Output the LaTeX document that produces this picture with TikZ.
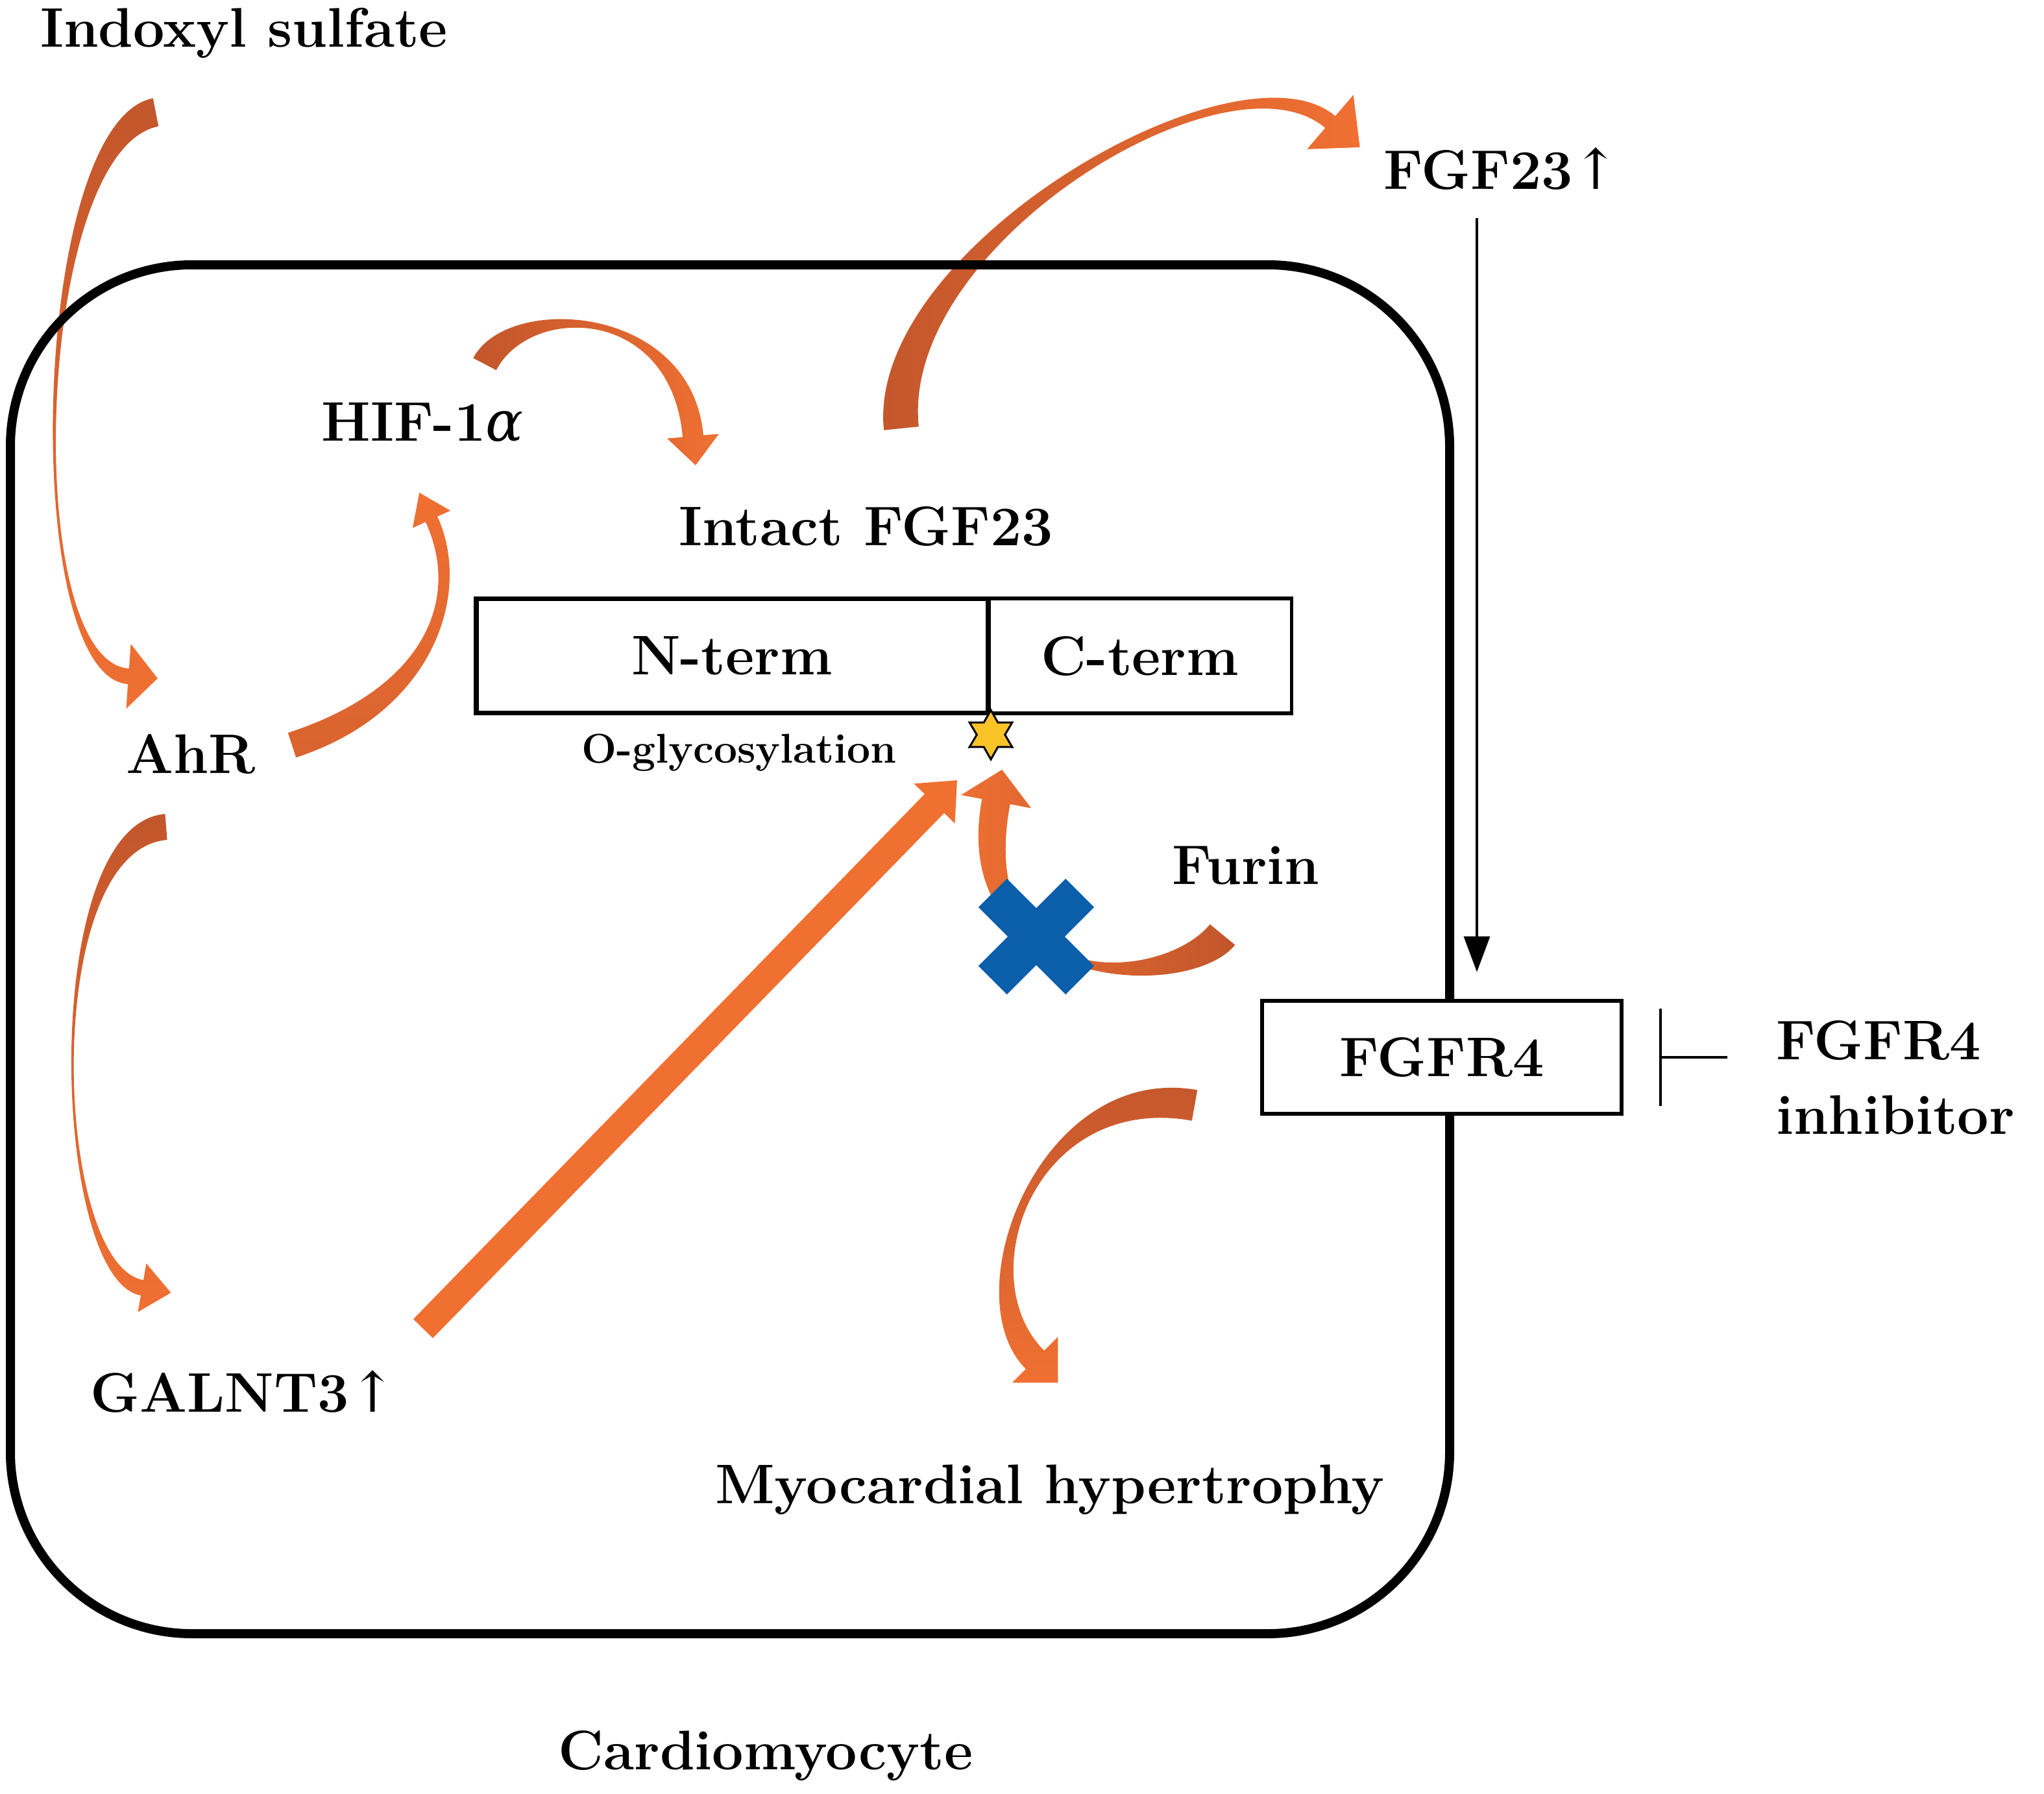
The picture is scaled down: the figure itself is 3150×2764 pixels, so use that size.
\documentclass[tikz,border=0pt]{standalone}
\usepackage{fontspec}
\newfontfamily\symfont{DejaVu Serif}
\usetikzlibrary{calc,arrows.meta,shapes.geometric}

\definecolor{orangelight}{RGB}{240,112,50}
\definecolor{orangedark}{RGB}{194,86,44}
\definecolor{crossblue}{RGB}{10,94,170}
\definecolor{stargold}{RGB}{250,196,40}

\newcommand{\lab}{\fontsize{86}{115}\selectfont\bfseries}
\newcommand{\smalllab}{\fontsize{64}{76}\selectfont\bfseries}
\newcommand{\up}{{\symfont\mdseries ↑}}
% tapered block arrow: options, tail, control, control, head base, tail half width, head-side half width, head half width, head length
\newcommand{\fatarrow}[9]{%
  \path[#1] ($(#2)!#6!90:(#3)$) .. controls ($(#3)!#6!-90:(#2)$) and ($(#4)!#7!90:(#5)$) .. ($(#5)!#7!-90:(#4)$)
    -- ($(#5)!#8!-90:(#4)$) -- ($(#5)!#9!180:(#4)$) -- ($(#5)!#8!90:(#4)$) -- ($(#5)!#7!90:(#4)$)
    .. controls ($(#4)!#7!-90:(#5)$) and ($(#3)!#6!90:(#2)$) .. ($(#2)!#6!-90:(#3)$) -- cycle;}

\begin{document}
\begin{tikzpicture}[x=1pt, y=-1pt,
    t/.style={font=\lab, inner sep=0pt, anchor=base},
    b/.style={draw, fill=white, line width=5pt, minimum height=174pt, inner sep=0pt, font=\lab},
    k/.style={fill=crossblue, minimum width=190pt, minimum height=62pt, inner sep=0pt},
    sig/.style={line width=4pt, -{Triangle[width=40pt,length=55pt]}},
    inh/.style={line width=4pt, -{Bar[width=150pt]}}]
    \useasboundingbox (0,0) rectangle (3150,2764);

    % arrow end points
    \coordinate (ind0) at (240,173);   \coordinate (ind1) at (50,210);
    \coordinate (ind2) at (30,1030);   \coordinate (ind3) at (198,1042);
    \coordinate (hif0) at (450,1148);  \coordinate (hif1) at (660,1080);
    \coordinate (hif2) at (720,920);   \coordinate (hif3) at (665,800);
    \coordinate (fgf0) at (747,561);   \coordinate (fgf1) at (800,460);
    \coordinate (fgf2) at (1050,470);  \coordinate (fgf3) at (1068,672);
    \coordinate (sec0) at (1389,660);  \coordinate (sec1) at (1360,380);
    \coordinate (sec2) at (1900,60);   \coordinate (sec3) at (2050,188);
    \coordinate (gal0) at (256,1274);  \coordinate (gal1) at (60,1290);
    \coordinate (gal2) at (80,1960);   \coordinate (gal3) at (219,1984);
    \coordinate (gly0) at (652,2047);  \coordinate (gly3) at (1440,1238);
    \coordinate (gly1) at ($(gly0)!0.33!(gly3)$);
    \coordinate (gly2) at ($(gly0)!0.67!(gly3)$);
    \coordinate (fur0) at (1884,1440); \coordinate (fur1) at (1810,1530);
    \coordinate (fur2) at (1480,1530); \coordinate (fur3) at (1535,1235);
    \coordinate (hyp0) at (1841,1703); \coordinate (hyp1) at (1600,1660);
    \coordinate (hyp2) at (1480,1980); \coordinate (hyp3) at (1595,2095);

    \fatarrow{top color=orangedark, bottom color=orangelight}{ind0}{ind1}{ind2}{ind3}{22pt}{12pt}{50pt}{45pt}
    \fatarrow{top color=orangelight, bottom color=orangedark!50!orangelight}{hif0}{hif1}{hif2}{hif3}{20pt}{10pt}{32pt}{45pt}
    \fatarrow{left color=orangedark, right color=orangelight}{fgf0}{fgf1}{fgf2}{fgf3}{20pt}{16pt}{40pt}{45pt}
    \fatarrow{left color=orangedark, right color=orangelight}{sec0}{sec1}{sec2}{sec3}{27pt}{12pt}{55pt}{60pt}
    \fatarrow{top color=orangedark, bottom color=orangelight}{gal0}{gal1}{gal2}{gal3}{20pt}{12pt}{38pt}{45pt}
    \fatarrow{fill=orangelight}{gly0}{gly1}{gly2}{gly3}{21pt}{21pt}{44pt}{50pt}
    \fatarrow{right color=orangedark, left color=orangelight}{fur0}{fur1}{fur2}{fur3}{25pt}{22pt}{55pt}{50pt}
    \fatarrow{top color=orangedark, bottom color=orangelight}{hyp0}{hyp1}{hyp2}{hyp3}{24pt}{20pt}{50pt}{50pt}

    \node[draw, line width=14pt, rounded corners=280pt, minimum width=2218pt, minimum height=2109pt, inner sep=0pt] (cell) at (1125,1462.5) {};

    \node[t] (indoxyl) at (376,73) {Indoxyl sulfate};
    \node[t] (fgf23) at (2314,291) {FGF23\up};
    \node[t] (hif) at (651,679) {HIF-1{\symfont\mdseries\itshape α}};
    \node[t] (intact) at (1335,840) {Intact FGF23};
    \node[b, minimum width=786pt] (Nterm) at (1128,1010.5) {N-term};
    \node[b, minimum width=464pt, anchor=west, line width=3pt] (Cterm) at (Nterm.east) {C-term};
    \draw[line width=5pt] (Nterm.north west) rectangle (Cterm.south east);
    \node[t, font=\smalllab] (oglyc) at (1139,1175) {O-glycosylation};
    \node[star, star points=6, star point ratio=1.75, fill=stargold, draw=black, line width=3pt, minimum size=76pt, inner sep=0pt] (glystar) at (1527,1132) {};
    \node[t] (ahr) at (294,1191) {AhR};
    \node[t] (furin) at (1920,1362) {Furin};
    \node[k, rotate=45] (block1) at (1597,1443) {};
    \node[k, rotate=-45] (block2) at (1597,1443) {};
    \node[b, minimum width=554pt, line width=6pt] (fgfr4) at (2222,1628.5) {FGFR4};
    \node[t, anchor=west, align=left] (inhib) at (2737,1660) {FGFR4\\inhibitor};
    \node[t] (galnt3) at (375,2175) {GALNT3\up};
    \node[t] (hyper) at (1618,2316) {Myocardial hypertrophy};
    \node[t] (cardio) at (1180,2726) {Cardiomyocyte};

    \draw[sig, shorten <=44pt, shorten >=41pt] ([xshift=-38pt]fgf23.south) -- ([xshift=54pt]fgfr4.north);
    \draw[inh, shorten <=75pt, shorten >=55pt] (inhib.west |- fgfr4.east) -- (fgfr4.east);
\end{tikzpicture}
\end{document}
